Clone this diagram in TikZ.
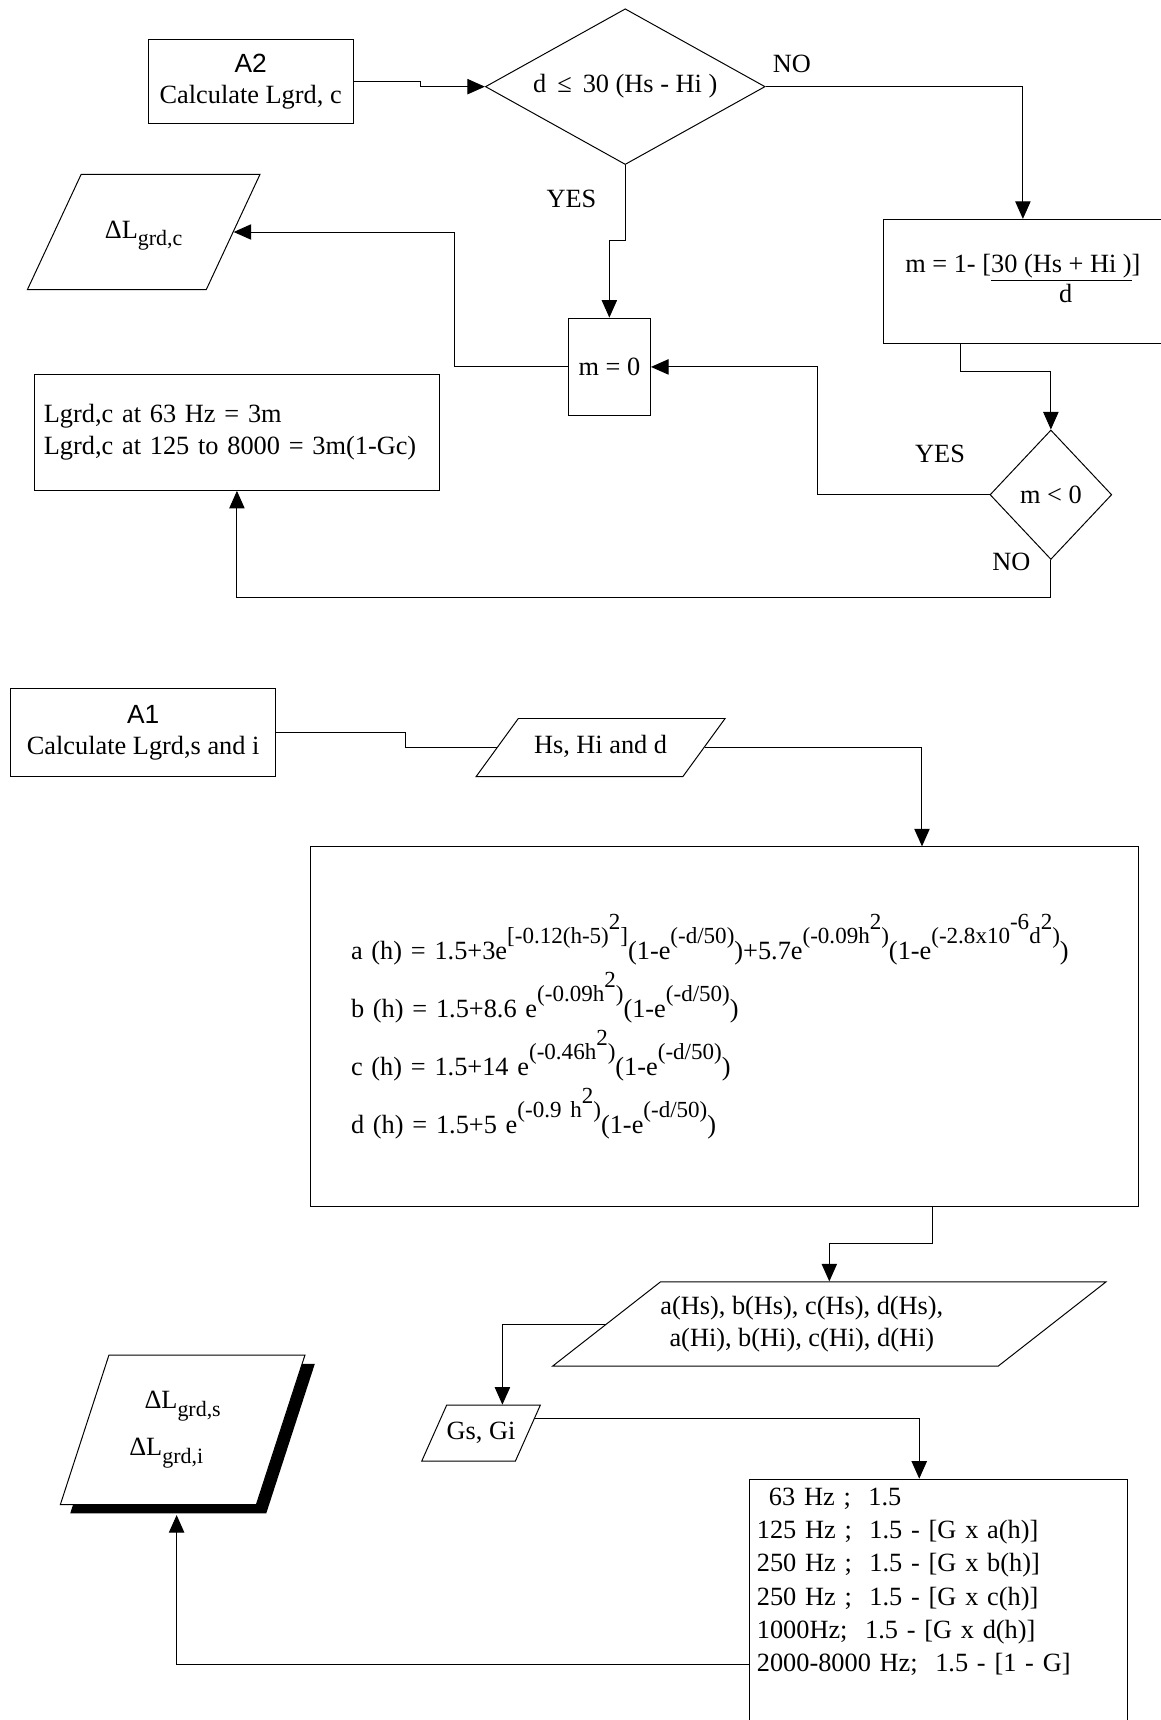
\documentclass[tikz,border=0pt]{standalone}
\usepackage{fontspec}
\setmainfont{Liberation Serif}
\newfontfamily\labelsans{Liberation Sans}
\usetikzlibrary{shapes.geometric,arrows.meta,calc,shadows}

% raised exponent and lowered index, as in the scanned formulas
\newcommand{\ex}[1]{\raisebox{0.6em}{\fontsize{21}{21}\selectfont #1}}
\newcommand{\ix}[1]{\raisebox{-0.3em}{\fontsize{20}{20}\selectfont #1}}

\begin{document}
\begin{tikzpicture}[x=1pt, y=-1pt, font=\fontsize{24}{29}\selectfont, line width=0.9pt]
	\tikzstyle{every node} = [draw = black, line width=0.9pt, inner sep=0pt]
	\tikzstyle{box} = [rectangle]
	\tikzstyle{io} = [trapezium, trapezium stretches body, text height=17pt, text depth=6pt]
	\tikzstyle{cond} = [diamond]
	\tikzstyle{lbl} = [draw = none]
	\tikzstyle{arr} = [-{Triangle[length=16pt,width=14pt]}]
\useasboundingbox (0,0) rectangle (1058,1568);
% upper part: A2
\node[box, minimum width=187, minimum height=77, align=center] (a2) at (228.5,74.5) {{\labelsans A2}\\Calculate Lgrd, c};
\node[cond, aspect=1.8, minimum width=255, minimum height=142] (d1) at (570,79) {d \,≤\, 30 (Hs - Hi )};
\node[box, minimum width=255, minimum height=113] (m1) at (932.5,256.5) {m = 1- [\begin{tabular}[t]{@{}c@{}}\underline{30 (Hs + Hi )}]\\[-2pt]d\end{tabular}};
\node[box, minimum width=75, minimum height=89] (m0) at (555.5,334.5) {m = 0};
\node[io, inner ysep=41, minimum width=212, trapezium left angle=65, trapezium right angle=115] (dlc) at (131,211.5) {ΔL\ix{grd,c}};
\node[box, minimum width=370, minimum height=106, align=left, text width=352, inner xsep=9] (lgc) at (216,394) {Lgrd,c at 63 Hz = 3m\\Lgrd,c at 125 to 8000 = 3m(1-Gc)};
\node[cond, aspect=0.94, minimum width=111, minimum height=118] (d2) at (958,451) {m < 0};
\node[lbl] (no1) at (722,58) {NO};
\node[lbl] (yes1) at (521,181) {YES};
\node[lbl] (yes2) at (857,414) {YES};
\node[lbl] (no2) at (922,512) {NO};
	\path[draw][arr] (a2.east) -- ++(61,0) |- (d1.west);
	\path[draw][arr] (d1.east) -| (m1.north);
	\path[draw][arr] (d1.south) -- ++(0,69) -| (m0.north);
	\path[draw][arr] (m0.west) -- ++(-103,0) |- (dlc.east);
	\path[draw][arr] ([xshift=-56.5pt]m1.south) -- ++(0,25) -| (d2.north);
	\path[draw][arr] (d2.west) -- ++(-157,0) |- (m0.east);
	\path[draw][arr] (d2.south) -- ++(0,34) -| (lgc.south);
% lower part: A1
\node[box, minimum width=241, minimum height=80, align=center] (a1) at (130.5,668) {{\labelsans A1}\\Calculate Lgrd,s and i};
\node[io, inner ysep=15, minimum width=227, trapezium left angle=54, trapezium right angle=126] (hs) at (547.5,681.5) {Hs, Hi and d};
\node[box, minimum width=755, minimum height=328, align=left, text width=681, inner xsep=37] (fb) at (660.5,936) {%
a (h) = 1.5+3e\ex{[-0.12(h-5)\ex{2}]}(1-e\ex{(-d/50)})+5.7e\ex{(-0.09h\ex{2})}(1-e\ex{(-2.8x10\ex{-6}d\ex{2})})\\[6pt]
b (h) = 1.5+8.6 e\ex{(-0.09h\ex{2})}(1-e\ex{(-d/50)})\\[6pt]
c (h) = 1.5+14 e\ex{(-0.46h\ex{2})}(1-e\ex{(-d/50)})\\[6pt]
d (h) = 1.5+5 e\ex{(-0.9 h\ex{2})}(1-e\ex{(-d/50)})};
\node[trapezium, trapezium stretches body, inner ysep=13, minimum width=498, trapezium left angle=38, trapezium right angle=142, align=center] (abcd) at (756,1207) {a(Hs), b(Hs), c(Hs), d(Hs),\hspace*{50pt}\\a(Hi), b(Hi), c(Hi), d(Hi)\hspace*{50pt}};
\node[io, inner ysep=14, minimum width=95, trapezium left angle=66, trapezium right angle=114] (gs) at (438.5,1306.5) {Gs, Gi};
\node[trapezium, trapezium stretches body, fill=white, drop shadow={shadow xshift=9pt, shadow yshift=-8pt, fill=black, opacity=1}, inner ysep=33, minimum width=223, trapezium left angle=72, trapezium right angle=108, align=center] (dls) at (166.5,1303.5) {ΔL\ix{grd,s}\\[14pt]ΔL\ix{grd,i}\hspace*{30pt}};
\node[box, anchor=north, minimum width=345, align=left, text width=331, inner xsep=7, inner ysep=8, text depth=240pt, font=\fontsize{24}{30.3}\selectfont] (fq) at (855.5,1348) {%
\hspace*{11pt}63 Hz ;\ \ 1.5\\
125 Hz ;\ \ 1.5 - [G x a(h)]\\
250 Hz ;\ \ 1.5 - [G x b(h)]\\
250 Hz ;\ \ 1.5 - [G x c(h)]\\
1000Hz;\ \ 1.5 - [G x d(h)]\\
2000-8000 Hz;\ \ 1.5 - [1 - G]};
	\path[draw] (a1.east) -- ++(118,0) |- (hs.west);
	\path[draw][arr] (hs.east) -| ([xshift=180pt]fb.north);
	\path[draw][arr] ([xshift=190pt]fb.south) -- ++(0,33) -| (abcd.north);
	\path[draw][arr] (abcd.west) -| ([xshift=19.5pt]gs.north);
	\path[draw][arr] ($(gs.top right corner)!0.25!(gs.bottom right corner)$) -| ([xshift=-17.5pt]fq.north);
	\path[draw][arr] ([yshift=-169pt]fq.north west) -| ([xshift=-5.5pt,yshift=-9pt]dls.south);
\end{tikzpicture}
\end{document}
